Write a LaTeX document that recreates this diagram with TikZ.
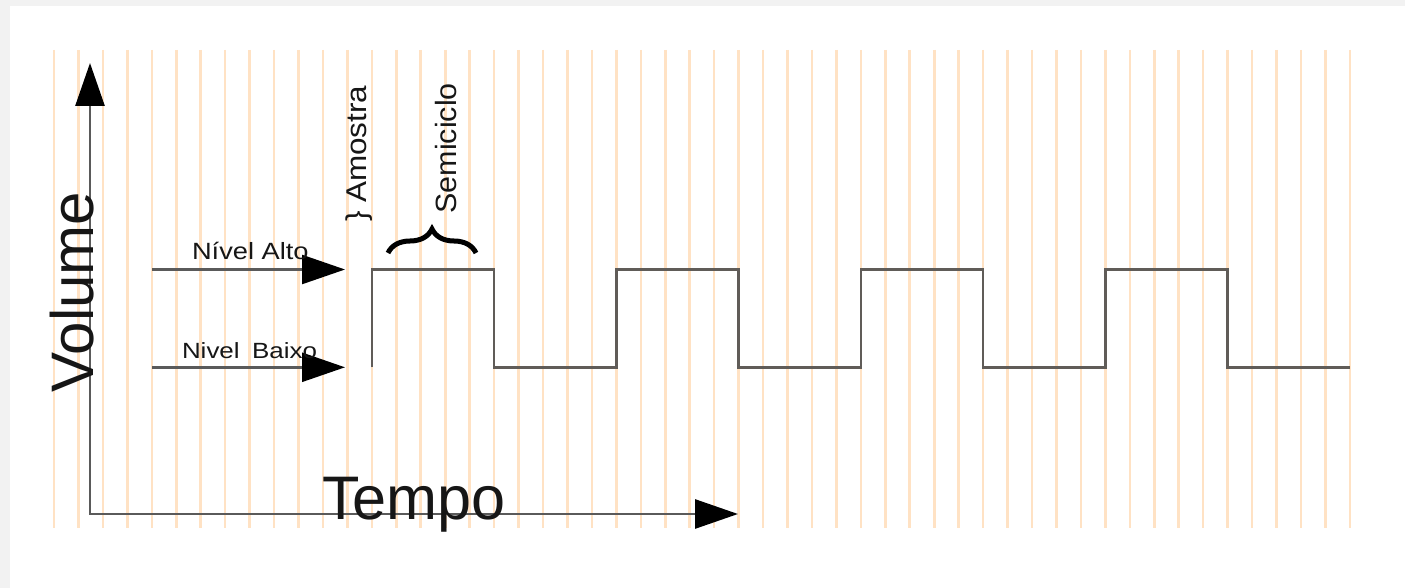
\documentclass[tikz,border=0pt]{standalone}
\usepackage{fontspec}
\usepackage{graphicx}
\setmainfont{Liberation Sans}
\usetikzlibrary{arrows.meta,decorations.pathreplacing}
\definecolor{bgframe}{RGB}{242,242,242}
\definecolor{gridc}{RGB}{255,226,196}
\definecolor{linec}{RGB}{90,90,90}
\definecolor{wavec}{RGB}{96,92,88}
\definecolor{txtc}{RGB}{22,22,22}
\begin{document}
\begin{tikzpicture}[x=1pt,y=-1pt,
  gridline/.style={draw=gridc, line width=2.6pt},
  axisline/.style={draw=linec, line width=2.8pt, line join=miter},
  levelline/.style={draw=linec, line width=2.4pt},
  wave/.style={draw=wavec, line width=2.4pt, line join=miter},
  bigtip/.tip={Triangle[length=43pt,width=29pt,color=black]},
  lbl/.style={inner sep=0pt, outer sep=0pt, text=txtc, anchor=base west},
  bracestyle/.style={draw=black, line width=5pt, decorate, decoration={brace, amplitude=24pt}}
]
% background frame
\fill[bgframe] (0,0) rectangle (1405,588);
\fill[white] (10,6) rectangle (1405,588);
\useasboundingbox (0,0) rectangle (1405,588);

% grid
\foreach \i in {0,...,53} {
  \draw[gridline] ({54+24.45*\i},50) -- ({54+24.45*\i},528);
}

% axes
\coordinate (O) at (90,514);
\coordinate (ytip) at (90,63);
\coordinate (xtip) at (738,514);
\draw[axisline,bigtip-bigtip] (ytip) -- (O) -- (xtip);

% level arrows
\coordinate (hiS) at (152,269.5);
\coordinate (hiE) at (345,269.5);
\coordinate (loS) at (152,367.3);
\coordinate (loE) at (345,367.3);
\draw[levelline,-bigtip] (hiS) -- (hiE);
\draw[levelline,-bigtip] (loS) -- (loE);

% square wave
\draw[wave] (371.9,367.3) -- (371.9,269.5) -- (494.1,269.5) -- (494.1,367.3)
  -- (616.4,367.3) -- (616.4,269.5) -- (738.6,269.5) -- (738.6,367.3)
  -- (860.9,367.3) -- (860.9,269.5) -- (983.1,269.5) -- (983.1,367.3)
  -- (1105.4,367.3) -- (1105.4,269.5) -- (1227.6,269.5) -- (1227.6,367.3)
  -- (1349.9,367.3);

% brace over first half-cycle
\coordinate (brL) at (388,253);
\coordinate (brR) at (476,253);
\draw[bracestyle] (brL) -- (brR);

% texts
\node[lbl] (tempo) at (322,519) {\fontsize{61.5}{62}\selectfont\scalebox{0.995}[1]{Tempo}};
\node[lbl, rotate=90] (volume) at (93,392) {\fontsize{60}{62}\selectfont Volume};
\node[lbl] (alto) at (192,259.3) {\fontsize{23.5}{24}\selectfont\scalebox{1.16}[1]{Nível Alto}};
\node[lbl] (baixo) at (182,358.3) {\fontsize{22}{24}\selectfont\scalebox{1.18}[1]{Nivel\hspace{0.2em} Baixo}};
\node[lbl, rotate=90] (amostra) at (366,222) {\fontsize{28.6}{30}\selectfont\scalebox{1.1}[1]{\} Amostra}};
\node[lbl, rotate=90] (semi) at (456.7,213.5) {\fontsize{29.3}{30}\selectfont\scalebox{1.04}[1]{Semiciclo}};
\end{tikzpicture}
\end{document}
